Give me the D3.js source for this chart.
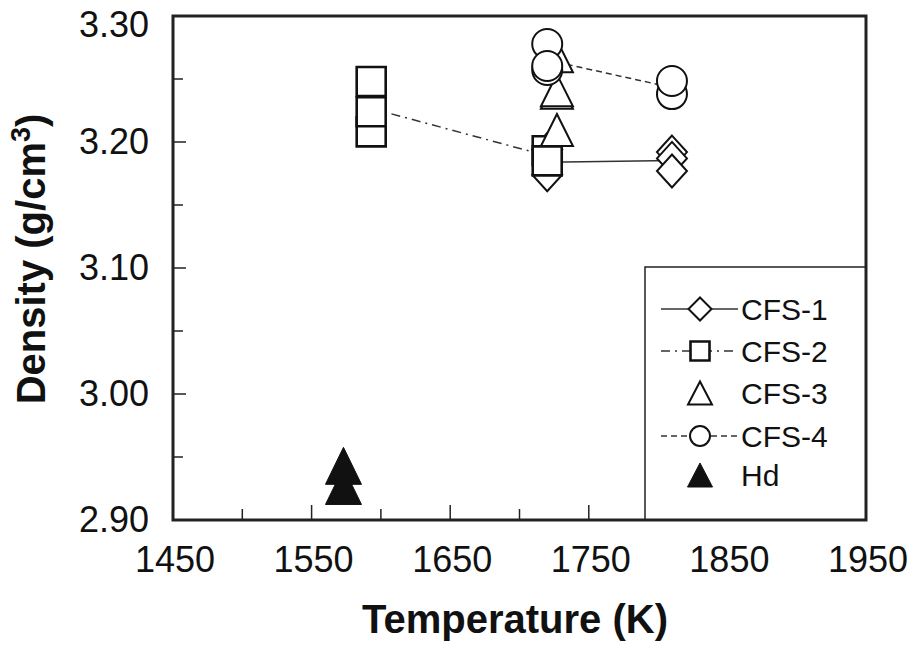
<!DOCTYPE html>
<html>
<head>
<meta charset="utf-8">
<script src="https://cdn.jsdelivr.net/npm/d3@7"></script>
<style>
  body { margin: 0; background: #fff; }
  text { font-family: Arial, "Liberation Sans", sans-serif; fill: #111; }
</style>
</head>
<body>
<div id="chart"></div>
<script>
// data (temperature in K, density in g/cm3)
var cfs1T = [1720, 1720, 1810, 1810, 1810];
var cfs1D = [3.194, 3.174, 3.192, 3.187, 3.177];
var cfs2T = [1593, 1593, 1593, 1720, 1720];
var cfs2D = [3.208, 3.224, 3.248, 3.193, 3.185];
var cfs3T = [1727, 1727, 1727, 1727];
var cfs3D = [3.2095, 3.239, 3.241, 3.268];
var cfs4T = [1720, 1720, 1720, 1810, 1810];
var cfs4D = [3.2778, 3.2571, 3.2603, 3.238, 3.2484];
var hdT = [1573, 1573];
var hdD = [2.927, 2.943];

var xTicks = [1450, 1500, 1550, 1600, 1650, 1700, 1750, 1800, 1850, 1900, 1950];
var xLabels = [1450, 1550, 1650, 1750, 1850, 1950];
var yTicks = [2.90, 2.95, 3.00, 3.05, 3.10, 3.15, 3.20, 3.25, 3.30];
var yLabels = [2.90, 3.00, 3.10, 3.20, 3.30];
var legendNames = ['CFS-1', 'CFS-2', 'CFS-3', 'CFS-4', 'Hd'];

function pairs(ts, ds) {
    var out = [];
    for (var i = 0; i < ts.length; i ++) out.push({t: ts[i], d: ds[i]});
    return out;
}
function means(pts) {
    var g = d3.rollups(pts, function(v) { return d3.mean(v, function(p) { return p.d; }); }, function(p) { return p.t; });
    g.sort(function(a, b) { return a[0] - b[0]; });
    return g.map(function(a) { return {t: a[0], d: a[1]}; });
}

var width = 912, height = 649;
var plotL = 173, plotR = 866, plotT = 16, plotB = 520;

var x = d3.scaleLinear().domain([1450, 1950]).range([plotL, plotR]);
var y = d3.scaleLinear().domain([2.90, 3.30]).range([plotB, plotT]);

var svg = d3.select('#chart').append('svg')
    .attr('width', width)
    .attr('height', height);

// marker shapes (centered at 0,0)
function diamond(w, h) { return 'M0,' + (-h/2) + 'L' + (w/2) + ',0L0,' + (h/2) + 'L' + (-w/2) + ',0Z'; }
function square(s) { return 'M' + (-s/2) + ',' + (-s/2) + 'h' + s + 'v' + s + 'h' + (-s) + 'Z'; }
function triangle(w, h) { return 'M0,' + (-h/2) + 'L' + (w/2) + ',' + (h/2) + 'L' + (-w/2) + ',' + (h/2) + 'Z'; }
function circle(r) { return 'M' + (-r) + ',0A' + r + ',' + r + ' 0 1,1 ' + r + ',0A' + r + ',' + r + ' 0 1,1 ' + (-r) + ',0Z'; }

var series = [
    {pts: pairs(cfs1T, cfs1D), shape: diamond(30, 33), legShape: diamond(23, 23), sw: 2, fill: '#fff', line: true, dash: null},
    {pts: pairs(cfs2T, cfs2D), shape: square(29), legShape: square(19), sw: 2.6, fill: '#fff', line: true, dash: '9,5,2,5'},
    {pts: pairs(cfs3T, cfs3D), shape: triangle(32, 32), legShape: triangle(24, 23), sw: 2, fill: '#fff', line: false, dash: null},
    {pts: pairs(cfs4T, cfs4D), shape: circle(15), legShape: circle(10), sw: 2, fill: '#fff', line: true, dash: '6,4'},
    {pts: pairs(hdT, hdD), shape: triangle(36, 37), legShape: triangle(25, 24), sw: 1, fill: '#111', line: false, dash: null}
];

// ticks (inside)
var g = svg.append('g');
xTicks.forEach(function(t) {
    var len = xLabels.indexOf(t) >= 0 ? 15 : 11;
    g.append('line').attr('x1', x(t)).attr('x2', x(t)).attr('y1', plotB).attr('y2', plotB - len)
        .attr('stroke', '#222').attr('stroke-width', 1.5);
});
yTicks.forEach(function(v) {
    var len = yLabels.indexOf(v) >= 0 ? 13 : 10;
    g.append('line').attr('x1', plotL).attr('x2', plotL + len).attr('y1', y(v)).attr('y2', y(v))
        .attr('stroke', '#222').attr('stroke-width', 1.5);
});

// tick labels
g.selectAll('.xl').data(xLabels).enter().append('text')
    .attr('x', function(d) { return x(d) + 2; })
    .attr('y', 572)
    .attr('text-anchor', 'middle')
    .style('font-size', '36px')
    .text(function(d) { return d; });
g.selectAll('.yl').data(yLabels).enter().append('text')
    .attr('x', 149)
    .attr('y', function(d) { return Math.max(y(d), 25) + 12; })
    .attr('text-anchor', 'end')
    .style('font-size', '36px')
    .text(function(d) { return d.toFixed(2); });

// axis titles
svg.append('text')
    .attr('x', 515).attr('y', 633)
    .attr('text-anchor', 'middle')
    .style('font-size', '40px').style('font-weight', 'bold')
    .text('Temperature (K)');
var yt = svg.append('text')
    .attr('transform', 'translate(45,259) rotate(-90)')
    .attr('text-anchor', 'middle')
    .style('font-size', '40px').style('font-weight', 'bold');
yt.append('tspan').text('Density (g/cm');
yt.append('tspan').attr('dy', -15).style('font-size', '27px').text('3');
yt.append('tspan').attr('dy', 15).text(')');

// connecting lines through the mean of each temperature
var lineGen = d3.line().x(function(p) { return x(p.t); }).y(function(p) { return y(p.d); });
series.forEach(function(s) {
    if (!s.line) return;
    svg.append('path')
        .attr('d', lineGen(means(s.pts)))
        .attr('fill', 'none')
        .attr('stroke', '#333')
        .attr('stroke-width', 1.5)
        .attr('stroke-dasharray', s.dash);
});

// markers
series.forEach(function(s) {
    svg.append('g').selectAll('path')
        .data(s.pts)
        .enter()
        .append('path')
        .attr('d', s.shape)
        .attr('transform', function(p) { return 'translate(' + x(p.t) + ',' + y(p.d) + ')'; })
        .attr('fill', s.fill)
        .attr('stroke', '#111')
        .attr('stroke-width', s.sw);
});

// legend
var lg = svg.append('g');
lg.append('rect')
    .attr('x', 645).attr('y', 267)
    .attr('width', plotR - 645).attr('height', plotB - 267)
    .attr('fill', '#fff').attr('stroke', '#222').attr('stroke-width', 1.5);
var rowY = [309, 351, 393, 436, 475];
series.forEach(function(s, i) {
    if (s.line) {
        lg.append('line')
            .attr('x1', 661).attr('x2', 738)
            .attr('y1', rowY[i]).attr('y2', rowY[i])
            .attr('stroke', '#333').attr('stroke-width', 1.5)
            .attr('stroke-dasharray', s.dash);
    }
    lg.append('path')
        .attr('d', s.legShape)
        .attr('transform', 'translate(700,' + rowY[i] + ')')
        .attr('fill', s.fill)
        .attr('stroke', '#111')
        .attr('stroke-width', s.sw);
    lg.append('text')
        .attr('x', 741)
        .attr('y', rowY[i] + 11)
        .style('font-size', '30px')
        .text(legendNames[i]);
});

// plot frame
svg.append('rect')
    .attr('x', plotL).attr('y', plotT)
    .attr('width', plotR - plotL).attr('height', plotB - plotT)
    .attr('fill', 'none').attr('stroke', '#222').attr('stroke-width', 3);
</script>
</body>
</html>
